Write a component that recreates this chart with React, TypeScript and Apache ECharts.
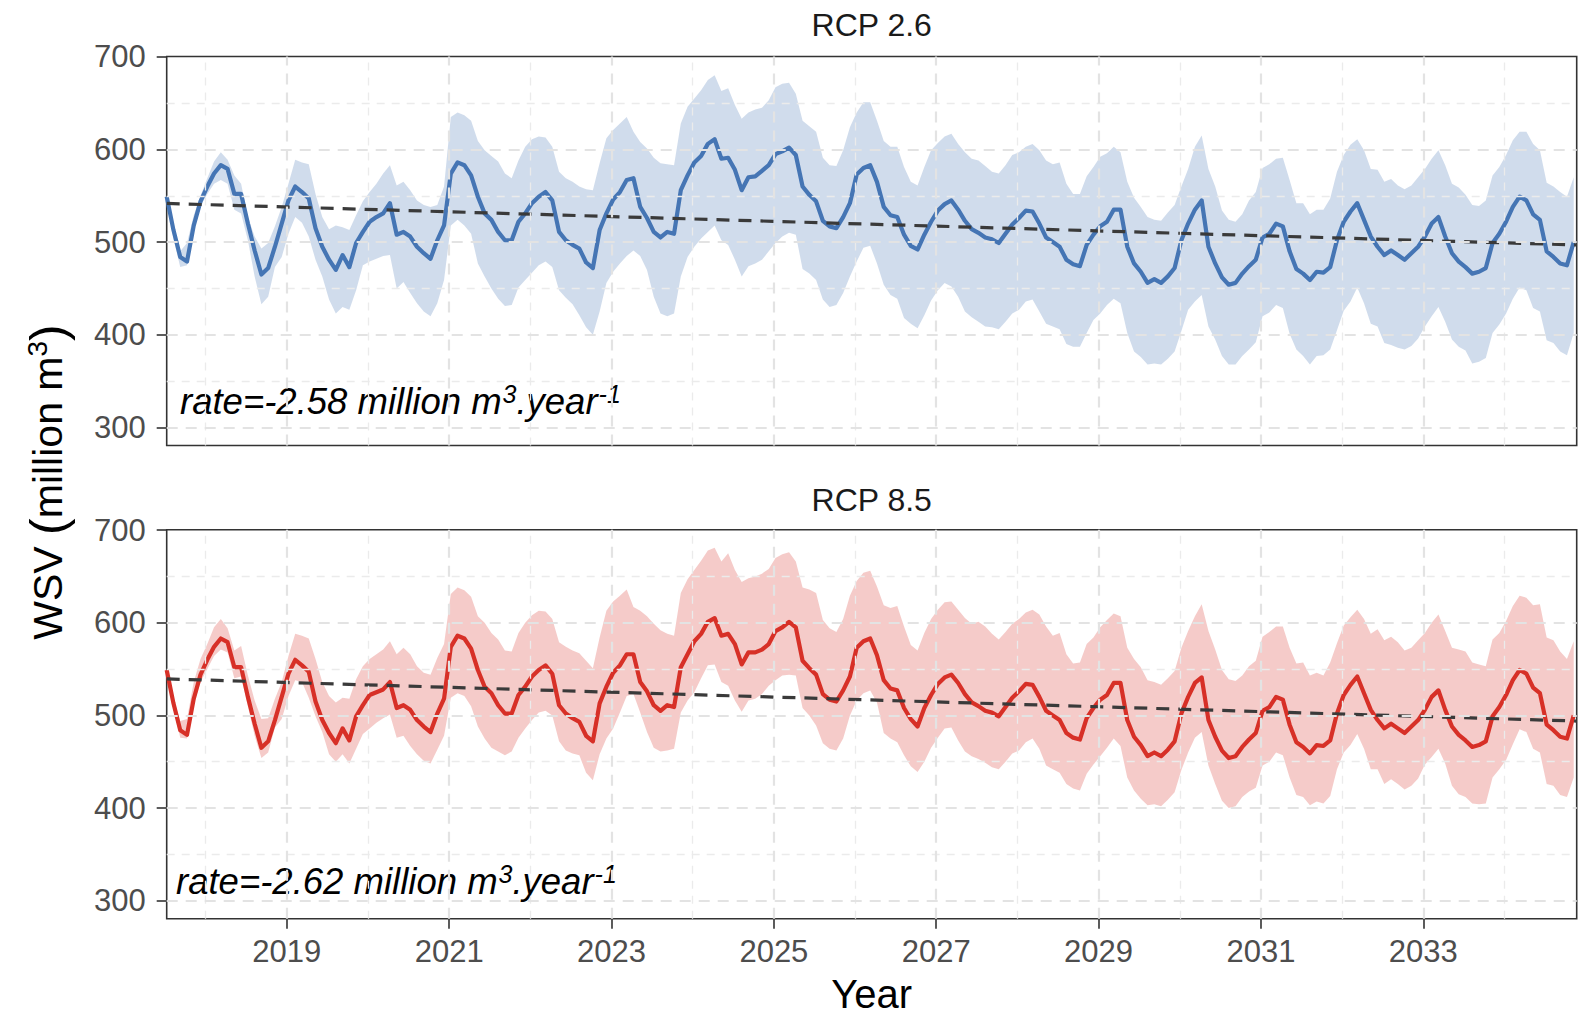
import React, { useEffect, useRef } from "react";
import * as echarts from "echarts";

// Monthly water storage volume (million m3), first step mid-2017.
const START_YEAR = 2017.52;
const X_MIN = 2017.52;
const X_MAX = 2034.89;
const Y_MIN = 280.5;
const Y_MAX = 700.3;

const yearTicks = [2019, 2021, 2023, 2025, 2027, 2029, 2031, 2033];
const yearMinor = [2018, 2020, 2022, 2024, 2026, 2028, 2030, 2032, 2034];
const valueTicks = [300, 400, 500, 600, 700];
const valueGrid = [300, 400, 500, 600];
const valueMinor = [350, 450, 550, 650];

const rcp26Mean = [
  549, 513, 484, 479, 518, 544, 560, 574, 583, 579,
  552, 552, 520, 491, 465, 472, 495, 520, 545, 560,
  554, 547, 515, 495, 481, 470, 486, 473, 499, 511,
  522, 527, 531, 542, 508, 511, 506, 495, 488, 482,
  502, 518, 574, 586, 583, 572, 549, 531, 524, 511,
  502, 502, 522, 531, 542, 549, 554, 545, 511, 502,
  497, 493, 478, 472, 513, 531, 546, 554, 567, 569,
  538, 526, 511, 505, 511, 509, 556, 572, 586, 593,
  606, 611, 590, 591, 578, 556, 570, 571, 577, 583,
  595, 598, 602, 594, 560, 551, 544, 523, 517, 515,
  527, 542, 573, 580, 583, 565, 538, 529, 527, 508,
  496, 492, 508, 522, 534, 541, 545, 535, 523, 514,
  510, 505, 503, 499, 509, 519, 526, 534, 533, 520,
  505, 500, 495, 481, 476, 474, 497, 508, 517, 522,
  535, 535, 495, 477, 468, 456, 460, 456, 463, 472,
  502, 520, 535, 545, 495, 477, 462, 454, 456, 466,
  474, 481, 505, 509, 520, 517, 490, 471, 466, 459,
  468, 467, 473, 502, 522, 533, 542, 524, 506, 495,
  486, 491, 486, 481, 488, 495, 506, 520, 527, 506,
  488, 479, 473, 466, 468, 472, 499, 509, 522, 538,
  549, 545, 530, 524, 490, 484, 477, 475, 500,
];

const rcp26Upper = [
  552, 517, 490, 499, 529, 550, 569, 587, 597, 589,
  572, 563, 527, 506, 493, 499, 517, 538, 563, 589,
  586, 584, 552, 527, 514, 518, 516, 513, 529, 544,
  554, 563, 574, 583, 561, 565, 556, 545, 540, 538,
  540, 560, 635, 640, 637, 631, 609, 599, 593, 587,
  574, 569, 588, 603, 611, 614, 613, 603, 576, 569,
  565, 560, 557, 556, 585, 612, 621, 628, 635, 619,
  608, 601, 591, 585, 584, 583, 628, 646, 655, 664,
  675, 680, 663, 666, 648, 633, 640, 643, 645, 653,
  667, 671, 672, 660, 631, 625, 619, 591, 583, 582,
  599, 624, 640, 651, 651, 631, 609, 603, 603, 581,
  565, 561, 581, 599, 607, 614, 617, 606, 597, 590,
  588, 582, 576, 574, 583, 594, 597, 603, 606, 599,
  588, 584, 586, 563, 552, 552, 571, 581, 592, 596,
  603, 597, 565, 548, 538, 527, 524, 523, 532, 540,
  560, 579, 603, 615, 579, 560, 534, 524, 522, 530,
  545, 554, 580, 584, 590, 591, 567, 542, 542, 530,
  535, 535, 547, 576, 594, 605, 611, 599, 579, 578,
  565, 568, 561, 557, 561, 570, 579, 590, 599, 583,
  563, 559, 551, 540, 539, 545, 572, 581, 594, 610,
  619, 619, 606, 599, 564, 560, 554, 549, 570,
];

const rcp26Lower = [
  545, 504, 473, 475, 515, 539, 552, 563, 567, 563,
  535, 531, 502, 463, 433, 441, 473, 484, 509, 527,
  521, 506, 481, 463, 438, 423, 430, 427, 448, 475,
  479, 482, 485, 486, 450, 457, 445, 434, 425, 420,
  434, 459, 518, 524, 518, 509, 477, 463, 450, 439,
  431, 432, 451, 459, 467, 475, 479, 473, 448, 440,
  433, 421, 408, 400, 425, 456, 468, 477, 485, 491,
  485, 470, 441, 423, 420, 423, 463, 484, 495, 504,
  511, 518, 502, 497, 481, 463, 474, 477, 481, 490,
  499, 506, 510, 508, 471, 466, 459, 438, 430, 432,
  445, 463, 479, 494, 496, 477, 454, 443, 439, 418,
  412, 407, 421, 437, 448, 456, 452, 441, 425, 419,
  414, 409, 408, 406, 414, 423, 427, 436, 438, 425,
  412, 409, 406, 390, 387, 387, 402, 416, 423, 432,
  439, 434, 402, 382, 376, 368, 369, 368, 374, 382,
  404, 427, 436, 443, 409, 395, 377, 368, 368, 377,
  384, 392, 420, 424, 432, 429, 401, 384, 377, 368,
  377, 378, 384, 405, 426, 436, 451, 434, 412, 409,
  391, 389, 386, 384, 388, 396, 409, 420, 430, 414,
  395, 387, 383, 369, 371, 375, 402, 411, 423, 439,
  451, 448, 429, 425, 394, 391, 382, 378, 402,
];

const rcp85Mean = [
  549, 513, 484, 479, 518, 544, 560, 574, 583, 579,
  552, 552, 520, 491, 465, 472, 495, 520, 545, 560,
  554, 547, 515, 495, 481, 470, 486, 473, 499, 511,
  522, 525, 528, 536, 508, 511, 506, 495, 488, 482,
  502, 518, 574, 586, 583, 572, 549, 531, 524, 511,
  502, 502, 522, 531, 542, 549, 554, 545, 511, 502,
  497, 493, 478, 472, 513, 531, 546, 554, 566, 566,
  536, 526, 511, 505, 511, 509, 552, 566, 580, 588,
  601, 605, 586, 588, 577, 555, 568, 568, 571, 577,
  591, 595, 601, 595, 559, 551, 544, 523, 517, 515,
  527, 542, 573, 580, 583, 565, 538, 529, 527, 508,
  496, 488, 508, 522, 534, 541, 544, 535, 523, 514,
  510, 505, 503, 499, 509, 519, 526, 534, 533, 520,
  505, 500, 495, 481, 476, 474, 497, 508, 517, 522,
  535, 535, 495, 477, 468, 456, 460, 456, 463, 472,
  502, 520, 535, 541, 495, 477, 462, 454, 456, 466,
  474, 481, 505, 509, 520, 517, 490, 471, 466, 459,
  468, 467, 473, 502, 522, 533, 542, 524, 506, 495,
  486, 491, 486, 481, 488, 495, 506, 520, 527, 506,
  488, 479, 473, 466, 468, 472, 499, 509, 522, 538,
  549, 545, 530, 524, 490, 484, 477, 475, 500,
];

const rcp85Upper = [
  550, 519, 494, 496, 536, 561, 577, 595, 604, 594,
  570, 575, 543, 516, 496, 497, 518, 536, 564, 588,
  586, 583, 561, 536, 521, 514, 519, 518, 539, 553,
  561, 566, 571, 580, 566, 573, 566, 553, 546, 544,
  562, 577, 631, 638, 635, 628, 607, 600, 589, 582,
  570, 569, 589, 600, 608, 613, 612, 604, 579, 574,
  570, 567, 559, 551, 584, 613, 623, 629, 636, 617,
  613, 607, 599, 592, 588, 586, 632, 647, 657, 667,
  678, 681, 666, 675, 657, 644, 648, 650, 653, 658,
  670, 674, 676, 666, 638, 636, 632, 603, 594, 590,
  604, 629, 645, 654, 656, 639, 619, 616, 618, 596,
  576, 570, 589, 604, 614, 622, 623, 614, 605, 599,
  601, 596, 588, 582, 590, 599, 604, 611, 614, 609,
  596, 586, 589, 566, 556, 557, 577, 584, 595, 603,
  610, 607, 573, 561, 552, 538, 536, 533, 540, 548,
  573, 591, 607, 620, 591, 571, 549, 539, 537, 543,
  553, 559, 585, 590, 596, 596, 573, 556, 557, 543,
  546, 543, 557, 578, 597, 606, 614, 604, 588, 593,
  581, 585, 579, 570, 573, 581, 589, 600, 609, 591,
  573, 571, 569, 557, 555, 553, 582, 589, 602, 618,
  629, 627, 619, 620, 584, 581, 569, 561, 580,
];

const rcp85Lower = [
  548, 509, 476, 475, 512, 536, 550, 564, 571, 568,
  540, 542, 510, 478, 454, 460, 487, 496, 521, 538,
  536, 519, 499, 482, 458, 450, 458, 448, 464, 480,
  486, 492, 497, 501, 476, 478, 467, 458, 451, 448,
  463, 478, 519, 524, 521, 510, 488, 475, 465, 461,
  457, 461, 476, 486, 495, 503, 505, 500, 472, 462,
  459, 457, 438, 430, 458, 475, 486, 503, 521, 523,
  503, 482, 465, 461, 462, 464, 503, 516, 525, 540,
  554, 555, 536, 532, 516, 504, 516, 518, 523, 532,
  538, 543, 544, 543, 508, 500, 489, 470, 464, 462,
  475, 500, 516, 524, 527, 514, 481, 475, 471, 457,
  445, 439, 450, 465, 476, 486, 487, 473, 461, 456,
  453, 449, 444, 442, 450, 459, 462, 471, 475, 464,
  446, 442, 438, 426, 421, 419, 437, 447, 456, 465,
  475, 467, 433, 419, 410, 403, 404, 402, 409, 417,
  441, 460, 476, 482, 446, 426, 408, 400, 402, 412,
  418, 422, 446, 450, 460, 457, 433, 414, 412, 403,
  407, 405, 413, 442, 460, 468, 480, 464, 442, 442,
  426, 431, 426, 420, 424, 432, 447, 455, 464, 448,
  424, 415, 412, 405, 404, 405, 433, 442, 452, 469,
  485, 482, 464, 460, 426, 424, 414, 412, 433,
];

// Linear trends: value at the first month and the fitted yearly rate.
const trend26Start = 541.7;
const trend85Start = 539.4;
const rate26 = -2.58;
const rate85 = -2.62;

const months = rcp26Mean.map((_, i) => START_YEAR + i / 12);

const FONT = "'Liberation Sans', Arial, Helvetica, sans-serif";

const PANEL_LEFT = 166.7;
const PANEL_WIDTH = 1410;
const PANEL_HEIGHT = 389;
const PANEL_TOPS = [56.5, 529.8];

const panels = [
  {
    title: "RCP 2.6",
    mean: rcp26Mean,
    upper: rcp26Upper,
    lower: rcp26Lower,
    color: "#4575b4",
    fill: "rgba(69,117,180,0.25)",
    trendStart: trend26Start,
    rate: rate26,
  },
  {
    title: "RCP 8.5",
    mean: rcp85Mean,
    upper: rcp85Upper,
    lower: rcp85Lower,
    color: "#d73027",
    fill: "rgba(215,48,39,0.25)",
    trendStart: trend85Start,
    rate: rate85,
  },
];

const majorGrid = { color: "#e3e3e3", width: 2.2, type: [11, 8] as number[] };
const minorGrid = { color: "#ebebeb", width: 1.3, type: [8, 7] as number[] };

function buildOption() {
  const grid = PANEL_TOPS.map((top) => ({
    left: PANEL_LEFT,
    top,
    width: PANEL_WIDTH,
    height: PANEL_HEIGHT,
    show: true,
    borderColor: "#333333",
    borderWidth: 1.6,
    backgroundColor: "transparent",
    containLabel: false,
  }));

  const xAxis = PANEL_TOPS.map((_, p) => ({
    type: "value",
    gridIndex: p,
    min: X_MIN,
    max: X_MAX,
    axisLine: { show: false },
    splitLine: { show: false },
    axisTick: {
      show: p === 1,
      customValues: yearTicks,
      length: 10,
      lineStyle: { color: "#333333", width: 1.6 },
    },
    axisLabel: {
      show: p === 1,
      customValues: yearTicks,
      fontSize: 31,
      fontFamily: FONT,
      color: "#4d4d4d",
      margin: 17,
      formatter: (v: number) => String(Math.round(v)),
    },
  }));

  const yAxis = PANEL_TOPS.map((_, p) => ({
    type: "value",
    gridIndex: p,
    min: Y_MIN,
    max: Y_MAX,
    axisLine: { show: false },
    splitLine: { show: false },
    axisTick: {
      show: true,
      customValues: valueTicks,
      length: 10,
      lineStyle: { color: "#333333", width: 1.6 },
    },
    axisLabel: {
      customValues: valueTicks,
      fontSize: 31,
      fontFamily: FONT,
      color: "#4d4d4d",
      margin: 21,
    },
  }));

  const series: any[] = [];
  panels.forEach((panel, p) => {
    // dashed background grid
    series.push({
      type: "line",
      xAxisIndex: p,
      yAxisIndex: p,
      data: [],
      silent: true,
      z: 1,
      markLine: {
        silent: true,
        symbol: ["none", "none"],
        label: { show: false },
        emphasis: { disabled: true },
        data: [
          ...yearMinor.map((v) => ({ xAxis: v, lineStyle: minorGrid })),
          ...valueMinor.map((v) => ({ yAxis: v, lineStyle: minorGrid })),
          ...yearTicks.map((v) => ({ xAxis: v, lineStyle: majorGrid })),
          ...valueGrid.map((v) => ({ yAxis: v, lineStyle: majorGrid })),
        ],
      },
    });

    // uncertainty band
    series.push({
      type: "custom",
      xAxisIndex: p,
      yAxisIndex: p,
      silent: true,
      z: 2,
      data: months.map((x, i) => [x, panel.lower[i], panel.upper[i]]),
      encode: { x: 0, y: [1, 2] },
      renderItem: (params: any, api: any) => {
        if (params.dataIndex !== 0) return null;
        const top = months.map((x, i) => api.coord([x, panel.upper[i]]));
        const bottom = months
          .map((x, i) => api.coord([x, panel.lower[i]]))
          .reverse();
        return {
          type: "polygon",
          shape: { points: top.concat(bottom) },
          style: { fill: panel.fill },
        };
      },
    });

    // monthly mean
    series.push({
      type: "line",
      xAxisIndex: p,
      yAxisIndex: p,
      data: months.map((x, i) => [x, panel.mean[i]]),
      showSymbol: false,
      symbol: "none",
      silent: true,
      z: 3,
      lineStyle: { color: panel.color, width: 4.2, join: "round" },
    });

    // linear trend
    series.push({
      type: "line",
      xAxisIndex: p,
      yAxisIndex: p,
      data: [
        [X_MIN, panel.trendStart],
        [X_MAX, panel.trendStart + panel.rate * (X_MAX - X_MIN)],
      ],
      showSymbol: false,
      symbol: "none",
      silent: true,
      z: 4,
      lineStyle: { color: "#3a3a3a", width: 3.2, type: [13, 9] },
    });
  });

  const panelCenter = PANEL_LEFT + PANEL_WIDTH / 2;
  const rateRich = {
    i: { fontSize: 36.5, fontStyle: "italic", fontFamily: FONT, fill: "#000", lineHeight: 40 },
    s: {
      fontSize: 25,
      fontStyle: "italic",
      fontFamily: FONT,
      fill: "#000",
      lineHeight: 26,
      verticalAlign: "top",
      padding: [0, 0, 0, 1],
    },
  };
  const rateText = (rate: number) =>
    `{i|rate=${rate.toFixed(2)} million m}{s|3}{i|.year}{s|-1}`;

  const graphic = [
    {
      type: "text",
      x: panelCenter,
      y: 24.5,
      style: {
        text: panels[0].title,
        fontSize: 32,
        fontFamily: FONT,
        fill: "#1a1a1a",
        align: "center",
        verticalAlign: "middle",
      },
    },
    {
      type: "text",
      x: panelCenter,
      y: 499.5,
      style: {
        text: panels[1].title,
        fontSize: 32,
        fontFamily: FONT,
        fill: "#1a1a1a",
        align: "center",
        verticalAlign: "middle",
      },
    },
    {
      type: "text",
      x: panelCenter,
      y: 994,
      style: {
        text: "Year",
        fontSize: 40,
        fontFamily: FONT,
        fill: "#000",
        align: "center",
        verticalAlign: "middle",
      },
    },
    {
      type: "text",
      x: 48,
      y: 482,
      rotation: Math.PI / 2,
      style: {
        text: "{t|WSV }{p|(}{t|million m}{s|3}{p|)}",
        align: "center",
        verticalAlign: "middle",
        rich: {
          t: { fontSize: 41, fontFamily: FONT, fill: "#000" },
          p: { fontSize: 50, fontFamily: FONT, fill: "#000" },
          s: { fontSize: 28, fontFamily: FONT, fill: "#000", verticalAlign: "top", lineHeight: 30 },
        },
      },
    },
    {
      type: "text",
      x: 180,
      y: 381,
      style: { text: rateText(rate26), rich: rateRich, align: "left", verticalAlign: "top" },
    },
    {
      type: "text",
      x: 176,
      y: 861,
      style: { text: rateText(rate85), rich: rateRich, align: "left", verticalAlign: "top" },
    },
  ];

  return {
    animation: false,
    backgroundColor: "#ffffff",
    textStyle: { fontFamily: FONT },
    grid,
    xAxis,
    yAxis,
    series,
    graphic,
  };
}

export default function App() {
  const ref = useRef<HTMLDivElement>(null);
  useEffect(() => {
    if (!ref.current) return;
    const chart = echarts.init(ref.current, null, { renderer: "svg" });
    chart.setOption(buildOption() as any);
    return () => chart.dispose();
  }, []);
  return (
    <div
      ref={ref}
      style={{ position: "absolute", left: 0, top: 0, width: 1588, height: 1023, background: "#fff" }}
    />
  );
}
